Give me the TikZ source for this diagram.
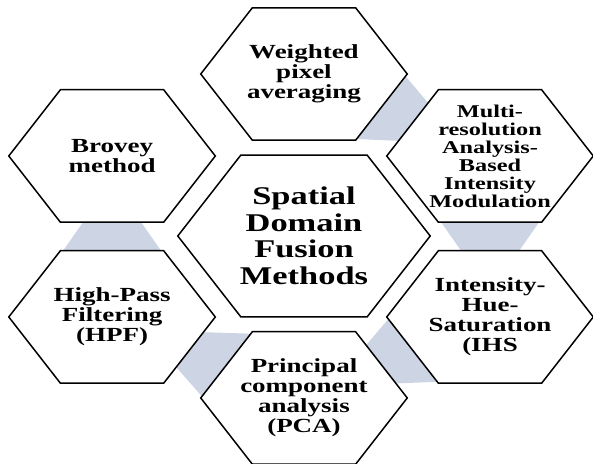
\documentclass[tikz,border=0pt]{standalone}
\usepackage{fontspec}
\setmainfont{Liberation Serif}
\usetikzlibrary{shapes.geometric,calc,backgrounds}
\definecolor{linkgray}{RGB}{205,213,228}
\tikzset{
  hexa/.style={regular polygon, regular polygon sides=6, draw, line width=1.5pt,
    fill=white, inner sep=-6pt, minimum size=153pt, align=center,
    font=\fontsize{20}{20}\selectfont\bfseries},
  link/.style={fill=linkgray},
}
% trapezoid from hexagon #1 in direction #2
\newcommand\hexlink[2]{%
  \fill[link] ($(#1)+(#2-31:73.6)$) -- ($(#1)+(#2-11:101)$)
    -- ($(#1)+(#2+11:101)$) -- ($(#1)+(#2+31:73.6)$) -- cycle;}
\begin{document}
\begin{tikzpicture}[x=1pt, y=-1pt, xscale=1.35, transform shape]
\useasboundingbox (0,0) rectangle (439.3,464);
\node [hexa, minimum size=187pt, font=\fontsize{25.5}{26.5}\selectfont\bfseries] (v0) at (225.2,236) {Spatial\\Domain\\Fusion\\Methods};
\node [hexa] (v1) at (225.2,74) {Weighted\\pixel\\averaging};
\node [hexa, font=\fontsize{18}{18}\selectfont\bfseries] (v2) at (363,156) {Multi-\\resolution\\Analysis-\\Based\\Intensity\\Modulation};
\node [hexa] (v3) at (363,317) {Intensity-\\Hue-\\Saturation\\(IHS};
\node [hexa] (v4) at (225.2,398) {Principal\\component\\analysis\\(PCA)};
\node [hexa] (v5) at (83,317) {High-Pass\\Filtering\\(HPF)};
\node [hexa] (v6) at (83,156) {Brovey\\method};
%
\begin{scope}[on background layer]
\hexlink{v1}{30.7}
\hexlink{v2}{90}
\hexlink{v3}{149.6}
\hexlink{v4}{209.7}
\hexlink{v5}{270}
\end{scope}
\end{tikzpicture}
\end{document}
